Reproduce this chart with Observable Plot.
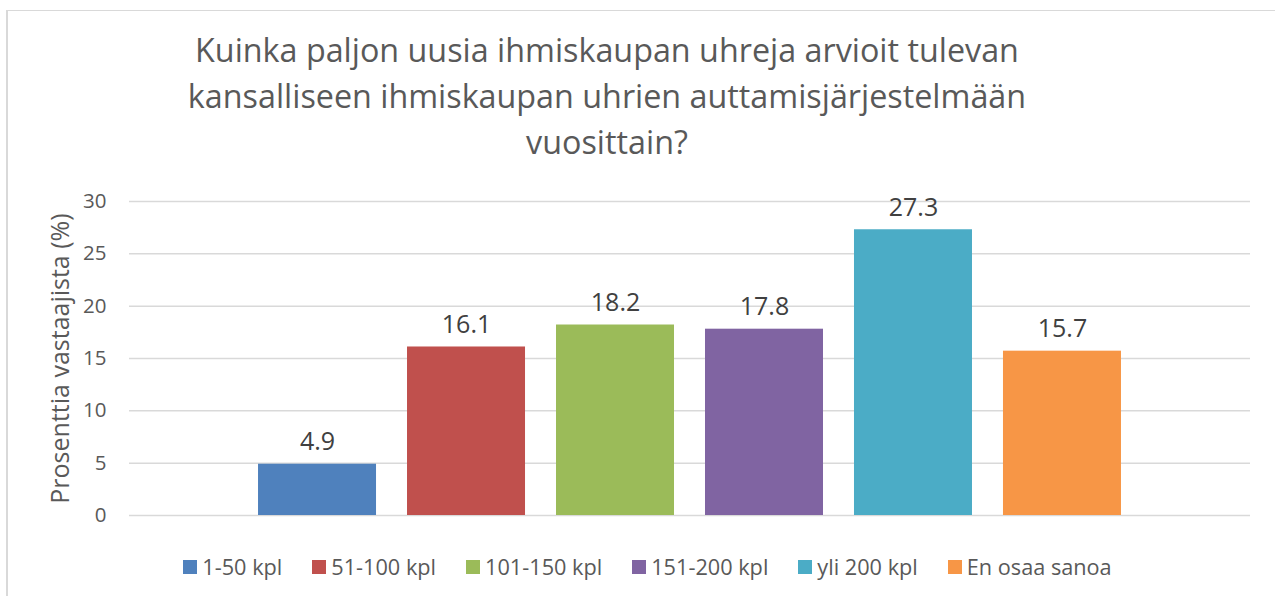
<!DOCTYPE html>
<html>
<head>
<meta charset="utf-8">
<script src="https://cdn.jsdelivr.net/npm/d3@7"></script>
<script src="https://cdn.jsdelivr.net/npm/@observablehq/plot@0.6"></script>
<style>
  html, body { margin: 0; padding: 0; background: #fff; }
  #wrap { position: relative; width: 1275px; height: 596px; overflow: hidden; font-family: "Open Sans", sans-serif; }
  #frame { position: absolute; left: 6px; top: 10px; width: 1275px; height: 600px; border-top: 1px solid #d9d9d9; border-left: 2px solid #d9d9d9; box-sizing: border-box; }
  #title { position: absolute; left: 157px; width: 900px; top: 26px; text-align: center; color: #595959; font-size: 32.3px; line-height: 46px; white-space: nowrap; }
  #chart { position: absolute; left: 0; top: 0; }
  #legend { position: absolute; top: 554px; left: 0; width: 1295px; display: flex; justify-content: center; gap: 30px; color: #595959; font-size: 21.7px; line-height: 26px; }
  .item { display: flex; align-items: center; gap: 5px; white-space: nowrap; }
  .sw { width: 14px; height: 14px; display: inline-block; }
</style>
</head>
<body>
<div id="wrap">
  <div id="frame"></div>
  <div id="title">Kuinka paljon uusia ihmiskaupan uhreja arvioit tulevan<br>kansalliseen ihmiskaupan uhrien auttamisjärjestelmään<br>vuosittain?</div>
  <div id="chart"></div>
  <div id="legend"></div>
</div>
<script>
const categories = ["1-50 kpl", "51-100 kpl", "101-150 kpl", "151-200 kpl", "yli 200 kpl", "En osaa sanoa"];
const values = [4.9, 16.1, 18.2, 17.8, 27.3, 15.7];
const colors = ["#4f81bd", "#c0504d", "#9bbb59", "#8064a2", "#4bacc6", "#f79646"];
const yTicks = [0, 5, 10, 15, 20, 25, 30];
const yLabel = "Prosenttia vastaajista (%)";

const data = categories.map((c, i) => ({category: c, value: values[i]}));

const chart = Plot.plot({
  width: 1275,
  height: 540,
  marginTop: 201,
  marginBottom: 25,
  marginLeft: 129,
  marginRight: 25,
  style: {background: "transparent", fontFamily: "'Open Sans', sans-serif", fontSize: "20px"},
  x: {domain: categories, paddingInner: 0.208, paddingOuter: 0.866, round: false, axis: null},
  y: {domain: [0, 30], ticks: yTicks},
  color: {domain: categories, range: colors},
  marks: [
    Plot.gridY(yTicks, {stroke: "#d9d9d9", strokeOpacity: 1, strokeWidth: 1.5}),
    Plot.axisY({ticks: yTicks, tickSize: 0, tickPadding: 23, fontSize: 20.5, color: "#595959", label: null}),
    Plot.text([yLabel], {frameAnchor: "left", textAnchor: "middle", dx: -69, rotate: -90, fontSize: 25, fill: "#595959"}),
    Plot.barY(data, {x: "category", y: "value", fill: "category"}),
    Plot.text(data, {x: "category", y: "value", text: d => d.value.toFixed(1), lineAnchor: "bottom", dy: -14, fontSize: 25, fill: "#404040"})
  ]
});
document.getElementById("chart").appendChild(chart);

const legend = document.getElementById("legend");
categories.forEach((c, i) => {
  const item = document.createElement("div");
  item.className = "item";
  const sw = document.createElement("span");
  sw.className = "sw";
  sw.style.background = colors[i];
  const t = document.createElement("span");
  t.textContent = c;
  item.appendChild(sw);
  item.appendChild(t);
  legend.appendChild(item);
});
</script>
</body>
</html>
